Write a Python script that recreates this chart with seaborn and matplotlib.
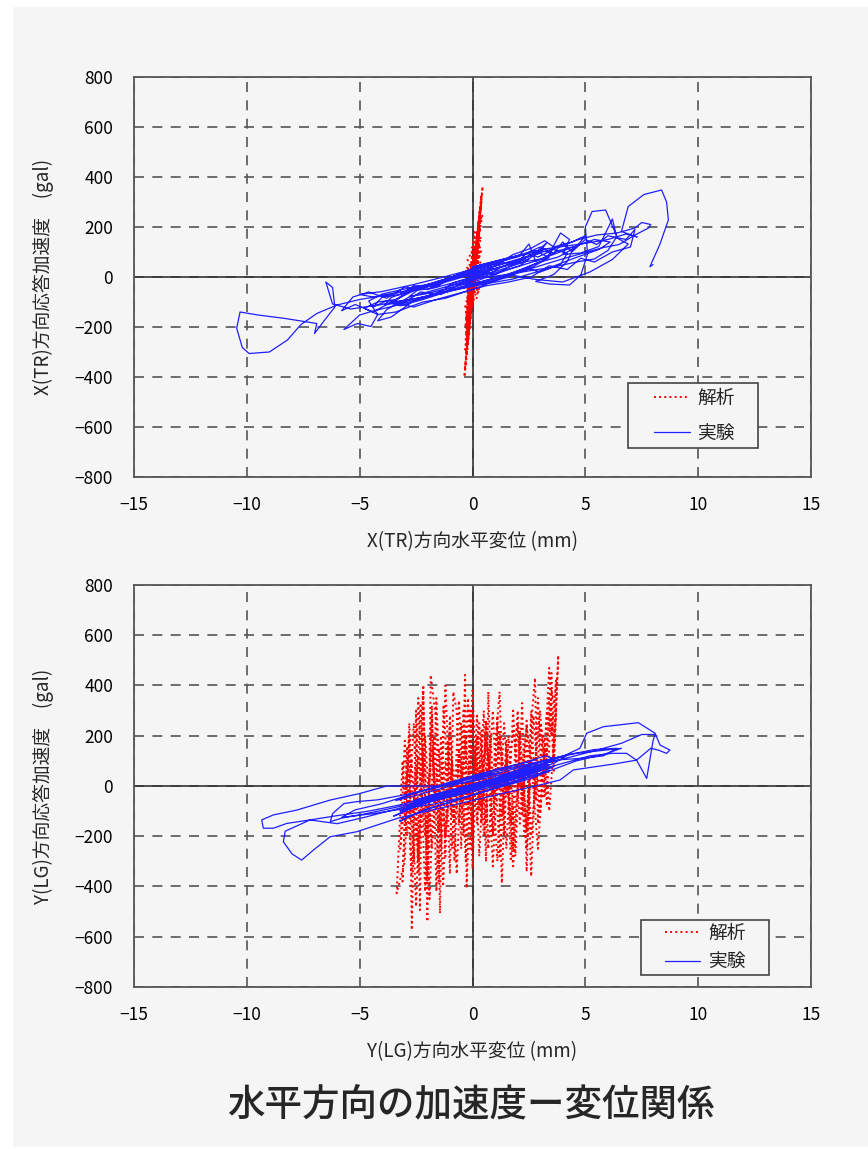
import numpy as np
import matplotlib
matplotlib.use("Agg")
import matplotlib.pyplot as plt
from matplotlib.patches import Rectangle
import seaborn as sns

# X(TR) direction: analysis (red dotted) and experiment (blue) loops, (disp mm, acc gal)
tr_analysis = [
    (-0.02, 10), (0.15, 120), (-0.2, -150), (0.28, 210), (-0.25, -240), (0.1, 60), (-0.12, -80),
    (0.32, 262), (-0.3, -300), (0.05, 20), (0.22, 150), (-0.18, -190), (0.4, 330), (-0.33, -362),
    (0.12, 90), (-0.08, -40), (0.3, 180), (-0.28, -212), (0.18, 40), (-0.15, -120), (0.45, 362),
    (-0.36, -400), (0.25, 100), (-0.22, -60), (0.35, 232), (-0.26, -272), (0.08, -20), (0.2, 70),
    (-0.1, -140), (0.38, 292), (-0.3, -332), (0.15, 30), (-0.05, -90), (0.27, 170), (-0.24, -180),
    (0.33, 240), (-0.2, -250), (0.1, 50), (-0.15, -30), (0.3, 140), (-0.28, -222), (0.22, 110),
    (-0.12, -100), (0.4, 300), (-0.32, -290), (0.05, 0), (0.25, 60), (-0.2, -110), (0.3, 90),
    (-0.25, -60), (0.2, 120), (-0.3, -150), (0.28, 40), (-0.18, -20), (0.34, 200), (-0.27, -200),
    (0.15, 80), (-0.1, -60), (0.26, 30), (-0.22, -100), (0.32, 120), (-0.3, -250), (0.1, 20),
    (0.38, 20), (-0.28, -10), (0.38, -30), (-0.26, 40), (0.42, 60), (-0.3, -50), (0.34, -60),
    (-0.22, 70), (0.38, 160), (-0.32, -120), (0.24, -80), (-0.05, 110), (0.44, 250), (-0.3, -170),
    (0.36, 10), (-0.27, 20), (0.4, 110), (-0.24, -90), (0.1, 180), (-0.32, -200), (0.3, -20),
]

tr_experiment = [
    (0.0, 5), (0.7, 25), (1.3, 42), (0.9, 20), (-0.3, -15), (-1.2, -42), (-0.8, -22), (0.4, 12),
    (1.6, 52), (2.5, 72), (2.1, 45), (0.7, 8), (-0.8, -38), (-2.1, -68), (-2.8, -78), (-2.4, -50),
    (-1.1, -12), (0.5, 30), (1.9, 66), (3.0, 95), (3.4, 78), (2.7, 42), (1.3, 2), (-0.2, -32),
    (-1.6, -66), (-3.0, -98), (-3.9, -112), (-3.6, -82), (-2.4, -42), (-1.0, -2), (0.8, 45),
    (2.1, 88), (2.5, 132), (2.8, 62), (3.8, 105), (4.5, 122), (4.2, 62), (3.6, 10), (2.8, -18),
    (3.4, -28), (4.3, -32), (4.8, 8), (5.1, 92), (5.0, 200), (5.3, 262), (5.9, 268), (6.4, 162),
    (6.0, 106), (5.4, 72), (4.6, 60), (3.6, 40), (2.2, 20), (0.8, -8), (-0.6, -45), (-2.0, -80),
    (-3.4, -114), (-4.4, -136), (-5.0, -152), (-5.7, -210), (-5.1, -186), (-4.5, -198), (-4.2, -150),
    (-4.6, -96), (-4.0, -68), (-3.0, -48), (-1.6, -22), (-0.2, 12), (1.2, 50), (2.6, 86), (3.9, 122),
    (4.7, 150), (5.5, 168), (6.4, 176), (7.2, 196), (7.5, 218), (7.9, 210), (7.8, 196), (7.2, 168),
    (6.5, 130), (5.8, 118), (5.0, 98), (3.9, 70), (2.6, 34), (1.2, -6), (-0.2, -40), (-1.6, -70),
    (-3.0, -94), (-4.3, -114), (-5.4, -128), (-6.2, -108), (-6.5, -20), (-6.2, -42), (-6.1, -120),
    (-6.6, -178), (-7.0, -226), (-6.9, -186), (-7.6, -176), (-8.3, -166), (-9.5, -152), (-10.3, -140),
    (-10.45, -205), (-10.2, -282), (-9.9, -306), (-9.0, -300), (-8.2, -252), (-7.6, -190), (-6.9, -146),
    (-6.0, -112), (-5.0, -90), (-3.6, -70), (-2.2, -38), (-0.8, -4), (0.6, 26), (2.0, 56), (3.3, 76),
    (3.9, 176), (4.3, 150), (4.0, 90), (4.8, 96), (5.6, 122), (6.2, 232), (6.4, 156), (6.9, 132),
    (6.2, 70), (5.2, 20), (4.0, -20), (2.8, -10), (1.6, 10), (0.2, -5), (-1.4, -45), (-2.8, -80),
    (-3.8, -130), (-4.2, -175), (-3.6, -160), (-2.6, -95), (-1.2, -50), (0.2, -15), (1.6, 30),
    (3.0, 70), (4.4, 118), (5.4, 150), (6.1, 140), (5.6, 110), (4.5, 75), (3.2, 30), (1.8, -8),
    (0.4, -30), (-1.0, -55), (-2.4, -85), (-3.5, -100), (-2.8, -58), (-1.5, -28), (-0.1, 8), (1.4, 42),
    (2.8, 98), (3.3, 138), (3.0, 104), (2.3, 60), (1.0, 22), (-0.4, -12), (-1.8, -46), (-3.2, -60),
    (-4.4, -80), (-5.0, -70), (-4.0, -58), (-2.6, -30), (-1.2, 2), (0.4, 40), (1.8, 78), (3.2, 112),
    (0.0, 40), (1.5, 75), (2.8, 105), (3.5, 100), (3.2, 70), (2.2, 30), (0.8, -10), (-0.8, -50),
    (-2.2, -90), (-3.2, -115), (-3.6, -105), (-3.0, -65), (-1.8, -25), (-0.4, 15), (1.0, 55),
    (2.0, 60), (2.4, 95), (2.9, 80), (3.6, 110), (4.2, 95), (3.9, 50), (3.0, 20), (2.4, 35),
    (1.6, 0), (0.6, -25), (-0.6, -30), (-1.4, -70), (-2.3, -60), (-3.0, -100), (-3.8, -95),
    (-4.4, -120), (-4.0, -80), (-3.2, -70), (-2.6, -35), (-1.6, -40), (-0.8, 5), (0.2, 0), (0.9, 40),
    (1.8, 90), (2.6, 115), (3.2, 145), (3.6, 120), (4.4, 140), (5.0, 165), (4.6, 120), (3.8, 80),
    (3.0, 60), (2.0, 25), (1.0, -15), (0.0, -50), (-1.2, -85), (-2.2, -100), (-3.4, -140),
    (-4.2, -150), (-4.8, -125), (-4.2, -100), (-3.4, -90), (-2.6, -55), (-1.4, -20), (-0.4, 20),
    (0.6, 50), (2.0, 80), (3.0, 120), (3.6, 95), (4.0, 140), (4.4, 100), (5.0, 150), (5.5, 130),
    (6.0, 165), (6.8, 150), (7.2, 190), (7.0, 120), (6.2, 100), (5.4, 60), (4.8, 75), (4.2, 30),
    (3.4, 45), (2.6, 0), (1.6, -20), (0.6, -35), (-0.6, -65), (-1.6, -90), (-2.6, -120),
    (-3.6, -100), (-4.4, -140), (-5.2, -110), (-5.8, -135), (-5.3, -80), (-4.6, -60), (-3.8, -85),
    (-3.0, -40), (-2.0, -50), (-1.0, -10), (0.0, 25), (1.0, 10), (2.0, 60), (3.2, 112),
    (4.8, 132), (6.0, 150), (6.8, 172), (7.3, 160), (6.6, 182), (6.9, 282), (7.6, 330), (8.38, 348),
    (8.6, 300), (8.68, 228), (8.3, 130), (8.0, 70), (7.86, 41), (8.0, 50),
]

# Y(LG) direction
lg_analysis = [
    (-0.2, -50), (-0.1, 300), (0.0, -250), (0.2, 200), (0.4, -150), (0.6, 260), (0.9, -200),
    (1.1, 280), (1.3, -120), (1.5, 180), (1.8, -250), (2.1, 220), (2.4, -180), (2.6, 300),
    (2.8, -60), (3.0, 250), (3.3, 120), (3.5, 450), (3.6, 100), (3.8, 520), (3.6, 60), (3.4, 470),
    (3.1, -50), (2.9, 350), (2.6, -360), (2.4, 200), (2.2, -120), (2.0, 250), (1.7, -300),
    (1.5, 150), (1.3, -387), (1.1, 250), (0.9, -200), (0.7, 375), (0.6, -301), (0.4, 220),
    (0.2, -150), (0.0, 300), (-0.26, -407), (-0.33, 442), (-0.5, -250), (-0.7, 300), (-0.85, 375),
    (-1.0, -350), (-1.2, 200), (-1.29, 315), (-1.44, -507), (-1.6, 250), (-1.85, 442), (-2.0, -540),
    (-2.18, 402), (-2.33, -494), (-2.5, 300), (-2.69, -573), (-2.8, 200), (-3.0, -300),
    (-3.36, -427), (-3.1, 100), (-2.9, -200), (-2.6, 250), (-2.4, -350), (-2.2, 150), (-2.0, -250),
    (-1.8, 320), (-1.6, -420), (-1.4, 200), (-1.2, -280), (-1.0, 250), (-0.8, -300), (-0.6, 150),
    (-0.4, -200), (-0.2, 350), (0.0, -330), (0.2, 180), (0.3, -100), (0.5, 300), (0.7, -250),
    (1.0, 150), (1.2, 375), (1.4, -200), (1.6, 200), (1.9, -280), (2.2, 330), (2.4, -341),
    (2.6, 250), (2.77, 430), (2.9, -150), (3.1, 200), (3.3, -80), (3.5, 380), (3.7, 300),
    (3.4, -100), (3.2, 150), (2.9, -250), (2.6, 100), (2.3, -200), (2.0, 300), (1.7, -150),
    (1.4, 250), (1.1, -300), (0.8, 200), (0.5, -200), (0.2, 280), (-0.1, -250), (-0.4, 300),
    (-0.7, -350), (-1.0, 280), (-1.3, -400), (-1.6, 350), (-1.9, -450), (-2.2, 380), (-2.5, -480),
    (-2.8, 250), (-3.1, -380), (-2.9, 150), (-2.6, -300), (-2.3, 330), (-2.0, -380), (-1.7, 200),
    (-1.4, -250), (-1.1, 180), (-0.8, -150), (-0.5, 250), (-0.2, -100), (0.1, 150), (0.4, -80),
    (0.7, 120), (1.0, -60), (1.3, 100), (1.6, -40), (1.9, 80), (2.2, -20), (2.5, 90), (2.8, 30),
    (2.6, -200), (2.4, 260), (2.1, -150), (1.8, 300), (1.5, -250), (1.2, 220), (0.9, -320),
    (0.6, 260), (0.3, -280), (0.0, 380), (-0.3, -300), (-0.6, 340), (-0.9, -250), (-1.2, 400),
    (-1.5, -380), (-1.8, 280), (-2.1, -420), (-2.4, 350), (-2.7, -350), (-3.0, 180), (-3.2, -250),
    (-2.9, 50), (-2.7, -150), (-2.4, 120), (-2.1, -200), (-1.8, 150), (-1.5, -180), (-1.2, 100),
    (-0.9, -120), (-0.6, 140), (-0.3, -80), (0.0, 160), (0.3, -60), (0.6, 180), (0.9, -40),
    (1.2, 200), (1.5, -30), (1.8, 220), (2.1, -10), (2.4, 240), (2.7, 20), (3.0, 300), (3.2, -40),
    (3.4, 350), (3.6, 150), (3.7, 420), (3.5, 200), (3.3, 300), (3.0, -100), (2.7, 280),
    (2.4, -250), (2.1, 150), (1.8, -320), (1.5, 100), (1.2, -280), (0.9, 300), (0.6, -150),
    (0.3, 250), (0.0, -200), (-0.3, 200), (-0.6, -150), (-0.9, 100), (-1.2, -200), (-1.5, 150),
    (-1.8, -250), (-2.1, 200), (-2.4, -300), (-2.7, 100), (-3.0, -150),
]

lg_experiment = [
    (0.0, 0), (1.2, 25), (2.3, 50), (2.9, 70), (2.5, 45), (1.3, 15), (0.0, -15), (-1.3, -45),
    (-2.5, -75), (-3.0, -92), (-2.6, -65), (-1.4, -35), (0.0, 0), (1.5, 35), (2.8, 66), (3.3, 86),
    (3.0, 60), (1.8, 30), (0.4, -5), (-1.0, -40), (-2.2, -66), (-2.8, -96), (-2.4, -70), (-1.2, -30),
    (0.2, 5), (1.6, 40), (2.6, 76), (3.4, 100), (4.2, 122), (3.6, 90), (2.4, 55), (1.0, 20),
    (-0.5, -20), (-2.0, -55), (-3.4, -85), (-4.6, -108), (-5.8, -128), (-6.3, -142), (-6.2, -110),
    (-5.7, -70), (-5.1, -62), (-4.2, -55), (-3.0, -35), (-1.6, -5), (-0.2, 30), (1.2, 60), (2.6, 90),
    (4.0, 118), (4.76, 150), (5.06, 210), (5.8, 236), (7.35, 252), (8.09, 210), (8.31, 163),
    (8.75, 143), (8.6, 130), (8.23, 143), (7.9, 150), (7.27, 103), (6.83, 130), (6.2, 130),
    (5.2, 120), (4.0, 90), (2.6, 55), (1.2, 20), (-0.3, -18), (-1.8, -52), (-3.3, -90), (-4.8, -125),
    (-6.0, -150), (-7.2, -135), (-8.23, -149), (-8.82, -168), (-9.27, -168), (-9.34, -135),
    (-8.82, -115), (-7.79, -96), (-6.31, -56), (-5.0, -30), (-3.8, 0), (-1.5, 0), (-0.2, 15),
    (1.3, 45), (2.8, 80), (4.2, 112), (5.4, 140), (6.6, 170), (7.5, 205), (8.09, 205), (8.0, 180),
    (7.72, 30), (7.27, 103), (6.3, 88), (4.47, 64), (3.88, 24), (2.8, 0), (1.4, -28), (0.0, -58),
    (-1.6, -92), (-3.3, -128), (-5.13, -182), (-6.31, -202), (-7.05, -255), (-7.57, -295),
    (-8.0, -270), (-8.38, -222), (-8.3, -180), (-7.2, -135), (-6.0, -118), (-4.6, -100), (-3.2, -75),
    (-1.8, -40), (-0.4, -5), (1.0, 30), (2.4, 62), (3.4, 84), (2.8, 52), (1.6, 20), (0.2, -12),
    (-1.2, -40), (-2.6, -72), (-3.2, -100), (-2.7, -80), (-1.4, -48), (0.0, -12), (1.4, 22),
    (2.8, 58), (3.6, 78), (3.0, 50), (1.8, 18), (0.4, -14), (-1.0, -44), (-2.2, -70), (-2.9, -82),
    (-2.2, -52), (-0.8, -18), (0.6, 14), (2.0, 46), (3.0, 70), (2.4, 64), (1.2, 36), (-0.2, 2),
    (-1.6, -30), (-2.6, -58), (-2.0, -44), (-0.6, -10), (0.8, 24), (2.2, 56), (3.2, 90), (3.8, 104),
    (4.8, 110), (5.8, 120), (6.4, 150), (5.4, 145), (4.2, 124), (3.0, 96), (1.6, 62), (0.2, 28),
    (-1.2, -6), (-2.6, -40), (-3.4, -58), (-2.8, -34), (-1.4, -2), (0.0, 30), (1.2, 50),
    (0.0, 40), (1.2, 70), (2.4, 95), (3.2, 120), (3.6, 110), (3.0, 80), (1.8, 45), (0.4, 5),
    (-1.0, -35), (-2.4, -75), (-3.2, -110), (-3.5, -120), (-2.8, -90), (-1.6, -55), (-0.4, -15),
    (1.0, 30), (2.2, 70), (3.0, 95), (3.8, 115), (4.6, 130), (5.6, 140), (6.6, 150), (5.8, 125),
    (4.6, 100), (3.4, 60), (2.0, 20), (0.6, -20), (-0.8, -60), (-2.0, -90), (-3.0, -130),
    (-3.2, -140), (-2.4, -105), (-1.2, -70), (0.2, -30), (1.6, 10), (2.8, 45), (3.4, 60), (2.6, 30),
    (1.2, -5), (-0.2, -40), (-1.6, -70), (-3.0, -90), (-4.4, -110), (-5.8, -125), (-5.2, -95),
    (-4.0, -70), (-2.6, -30), (-1.2, 10), (0.2, 45), (1.6, 75), (2.8, 105),
]

x_ticks = [-15, -10, -5, 0, 5, 10, 15]
y_ticks = [-800, -600, -400, -200, 0, 200, 400, 600, 800]

sns.set_theme(style="white")
plt.rcParams['font.family'] = ['Noto Sans CJK JP', 'DejaVu Sans']
plt.rcParams['axes.unicode_minus'] = True

BG = '#f5f5f5'
W, H = 868, 1149
fig = plt.figure(figsize=(W / 100, H / 100), dpi=100, facecolor='white')
fig.add_artist(Rectangle((13 / W, 2 / H), (W - 13) / W, (H - 9) / H,
                         transform=fig.transFigure, facecolor=BG, edgecolor='none', zorder=0))


def panel(rect, analysis, experiment, xlabel, ylabel, box, handle_x, spacing):
    ax = fig.add_axes(rect)
    ax.set_facecolor(BG)
    a = np.array(analysis)
    e = np.array(experiment)
    sns.lineplot(x=a[:, 0], y=a[:, 1], sort=False, estimator=None, ax=ax,
                 color='red', linestyle=':', linewidth=1.4, label='解析', zorder=3)
    sns.lineplot(x=e[:, 0], y=e[:, 1], sort=False, estimator=None, ax=ax,
                 color='#1f1fff', linewidth=0.9, label='実験', zorder=4)

    ax.set_xlim(-15, 15)
    ax.set_ylim(-800, 800)
    ax.set_xticks(x_ticks)
    ax.set_yticks(y_ticks)
    ax.grid(True, color='#555555', linestyle=(0, (6, 5)), linewidth=1.2)
    ax.set_axisbelow(True)
    ax.axhline(0, color='#333333', linewidth=1.2, zorder=2)
    ax.axvline(0, color='#333333', linewidth=1.2, zorder=2)
    for s in ax.spines.values():
        s.set_color('#555555')
        s.set_linewidth(1.3)
    ax.tick_params(length=0, labelsize=12.5, colors='black')
    ax.tick_params(axis='x', pad=14)
    ax.tick_params(axis='y', pad=15)

    ax.set_xlabel(xlabel, fontsize=13.5)
    ax.set_ylabel(ylabel, fontsize=13.5)
    ax.xaxis.set_label_coords(0.5, -0.135)
    ax.yaxis.set_label_coords(-0.118, 0.5)

    # legend frame drawn separately so its padding can match the reference
    bx, by, bw, bh = box
    ax.add_patch(Rectangle((bx, by), bw, bh, transform=ax.transAxes, facecolor=BG,
                           edgecolor='#444444', linewidth=1.2, zorder=5))
    leg = ax.legend(loc='center left', bbox_to_anchor=(handle_x, by + bh / 2), frameon=False,
                    fontsize=13.5, handlelength=1.9, borderpad=0, labelspacing=spacing,
                    handletextpad=0.4, borderaxespad=0)
    leg.set_zorder(6)
    return ax


panel([134 / W, 1 - 477 / H, 677 / W, 400 / H], tr_analysis, tr_experiment,
      'X(TR)方向水平変位 (mm)', 'X(TR)方向応答加速度　(gal)',
      (0.730, 0.0725, 0.192, 0.1625), 0.768, 0.75)
panel([134 / W, 1 - 987 / H, 677 / W, 402 / H], lg_analysis, lg_experiment,
      'Y(LG)方向水平変位 (mm)', 'Y(LG)方向応答加速度　(gal)',
      (0.749, 0.030, 0.189, 0.137), 0.784, 0.42)

fig.text(471 / W, 1 - 1105 / H, '水平方向の加速度ー変位関係', ha='center', va='center',
         fontsize=27, fontweight='medium')

fig.savefig('out.png', dpi=100, facecolor='white')
